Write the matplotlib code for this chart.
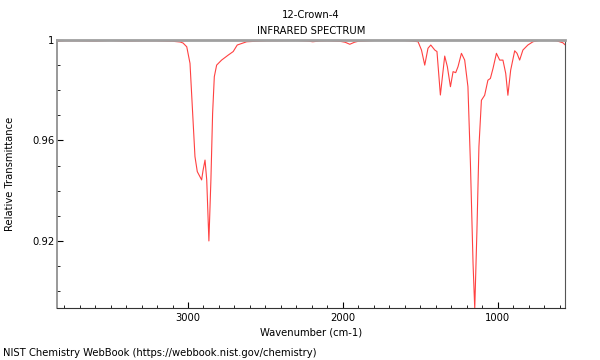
import numpy as np
from matplotlib import pyplot as plt
from matplotlib.ticker import MultipleLocator

plt.rcParams['font.family'] = 'DejaVu Sans'
plt.rcParams['font.stretch'] = 'condensed'

# spectrum (wavenumber cm-1, relative transmittance)
wavenumber = [3846, 3800, 3700, 3600, 3500, 3400, 3300, 3200, 3100, 3050, 3032, 3008,
              2987, 2970, 2955, 2940, 2923, 2912, 2903, 2890, 2879, 2865, 2852, 2841,
              2830, 2815, 2783, 2740, 2708, 2682, 2621, 2500, 2300, 2230, 2194, 2150,
              2100, 2020, 1985, 1955, 1925, 1900, 1800, 1600, 1550, 1514, 1492, 1471,
              1450, 1432, 1406, 1392, 1370, 1342, 1325, 1305, 1288, 1271, 1256, 1234,
              1213, 1192, 1176, 1159, 1148, 1134, 1121, 1105, 1084, 1063, 1047, 1030,
              1008, 987, 966, 948, 934, 916, 890, 875, 858, 837, 805, 772, 729, 680,
              621, 579, 563]
transmittance = [0.9995, 0.9997, 0.9997, 0.9996, 0.9998, 0.9996, 0.9997, 0.9997, 0.9995,
                 0.9992, 0.9988, 0.9973, 0.9907, 0.9710, 0.9536, 0.9476, 0.9456, 0.9443,
                 0.9480, 0.9522, 0.9443, 0.9200, 0.9443, 0.9708, 0.9854, 0.9900, 0.9920,
                 0.9940, 0.9954, 0.9980, 0.9993, 0.9997, 0.9998, 0.9996, 0.9993, 0.9996,
                 0.9997, 0.9995, 0.9991, 0.9983, 0.9991, 0.9995, 0.9998, 0.9998, 0.9996,
                 0.9993, 0.9960, 0.9900, 0.9967, 0.9980, 0.9960, 0.9954, 0.9781, 0.9936,
                 0.9894, 0.9814, 0.9874, 0.9870, 0.9894, 0.9947, 0.9920, 0.9814, 0.9510,
                 0.9110, 0.8930, 0.9240, 0.9575, 0.9760, 0.9780, 0.9840, 0.9847, 0.9887,
                 0.9947, 0.9920, 0.9920, 0.9867, 0.9780, 0.9880, 0.9957, 0.9947, 0.9920,
                 0.9960, 0.9980, 0.9993, 0.9999, 0.9999, 0.9997, 0.9989, 0.9980]

fig = plt.figure(figsize=(6, 3.6), dpi=100)
ax = fig.add_axes([0.095, 0.1444, 0.8467, 0.7445])
ax.plot(wavenumber, transmittance, color='#ff2020', lw=0.8, alpha=0.85)

ax.set_xlim(3846, 565)
ax.set_ylim(0.8933, 1.0)
ax.xaxis.set_major_locator(MultipleLocator(1000))
ax.xaxis.set_minor_locator(MultipleLocator(100))
ax.yaxis.set_major_locator(MultipleLocator(0.04))
ax.yaxis.set_minor_locator(MultipleLocator(0.01))
ax.yaxis.set_major_formatter(plt.FuncFormatter(lambda v, p: '%g' % round(v, 4)))
ax.tick_params(which='major', direction='in', length=4, labelsize=8)
ax.tick_params(which='minor', direction='in', length=2.5)
ax.tick_params(axis='y', which='both', pad=2)

ax.spines['top'].set_color('#a0a0a0')
ax.spines['top'].set_linewidth(2)
ax.spines['left'].set_color('#888888')
ax.spines['left'].set_linewidth(1.2)
ax.spines['right'].set_color('#555555')
ax.spines['bottom'].set_color('#333333')

ax.set_xlabel('Wavenumber (cm-1)', fontsize=8, labelpad=3)
ax.set_ylabel('Relative Transmittance', fontsize=8, labelpad=12)
ax.set_title('12-Crown-4\nINFRARED SPECTRUM', fontsize=8, pad=4, linespacing=1.75)
fig.text(0.005, 0.012, 'NIST Chemistry WebBook (https://webbook.nist.gov/chemistry)', fontsize=8)

plt.savefig('out.png', dpi=100)
